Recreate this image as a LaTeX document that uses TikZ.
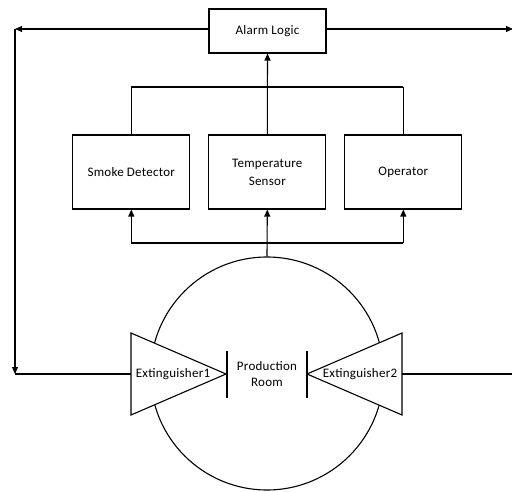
\documentclass[tikz,border=0pt]{standalone}
\usepackage{fontspec}
\setmainfont{Carlito}[LetterSpace=2]
\usetikzlibrary{arrows.meta}
\begin{document}
\begin{tikzpicture}[x=1pt,y=-1pt,
  line width=1.1pt,
  every node/.style={font=\fontsize{13}{17}\selectfont, inner sep=0pt},
  block/.style={draw, minimum width=117pt, minimum height=74pt, align=center},
  wire/.style={draw},
  flow/.style={draw, -{Triangle[length=7pt,width=6pt]}}]
\useasboundingbox (0,0) rectangle (512,492);

% control blocks
\node[block, minimum height=44pt] (alarm) at (267.5,31) {Alarm Logic};
\node[block] (smoke) at (131.3,172) {Smoke Detector};
\node[block] (temp)  at (267.3,172) {Temperature\\[1pt]Sensor};
\node[block] (oper)  at (403.3,172) {Operator};

% production room
\node[draw, circle, minimum size=233pt] (room) at (267,373.5) {};
\node[align=center, font=\fontsize{13}{16}\selectfont] (roomtxt) at (267,374) {Production\\Room};

% extinguishers
\coordinate (e1a) at (131,333);
\coordinate (e1b) at (131,415);
\coordinate (e1tip) at (226,374);
\coordinate (e1in) at (131,374);
\coordinate (e2a) at (402,333);
\coordinate (e2b) at (402,415);
\coordinate (e2tip) at (307,374);
\coordinate (e2in) at (402,374);
\filldraw[fill=white] (e1a) -- (e1tip) -- (e1b) -- cycle;
\filldraw[fill=white] (e2a) -- (e2tip) -- (e2b) -- cycle;
\node (ex1) at (173,374) {Extinguisher1};
\node (ex2) at (360,374) {Extinguisher2};
\draw (227,351) -- (227,398);
\draw (307,351) -- (307,398);

% sensors to alarm logic
\coordinate (busL) at (131.3,87);
\coordinate (busR) at (403.3,87);
\draw[wire] (busL) -- (busR);
\draw[wire] (busL) -- (smoke.north);
\draw[wire] (busR) -- (oper.north);
\draw[flow] (temp.north) -- (alarm.south);

% room to sensors
\coordinate (lowL) at (131.3,243);
\coordinate (lowR) at (403.3,243);
\draw[wire] (lowL) -- (lowR);
\draw[flow] (lowL) -- (smoke.south);
\draw[flow] (lowR) -- (oper.south);
\draw[flow] (room.north) -- (temp.south);

% alarm logic to extinguishers
\coordinate (cornerTL) at (15,29);
\coordinate (cornerBL) at (15,374);
\coordinate (outTR) at (513,29);
\coordinate (outBR) at (513,374);
\draw[flow] (alarm.west |- cornerTL) -- (cornerTL);
\draw[flow] (cornerTL) -- (cornerBL);
\draw[wire] (cornerBL) -- (e1in);
\draw[flow] (alarm.east |- outTR) -- (outTR);
\draw[wire] (e2in) -- (outBR);
\end{tikzpicture}
\end{document}
